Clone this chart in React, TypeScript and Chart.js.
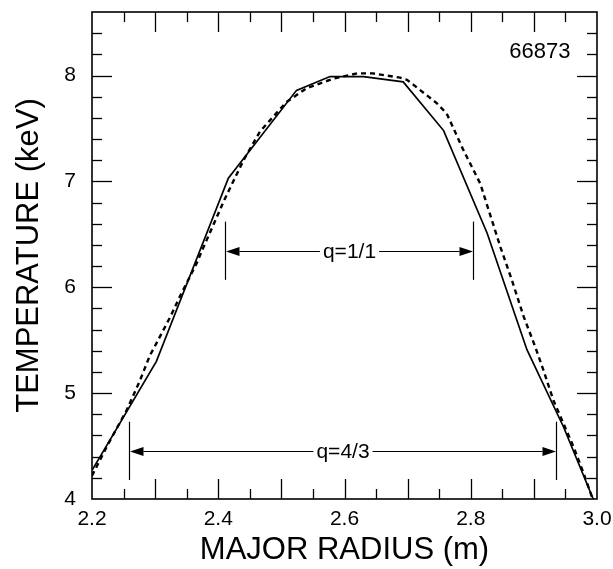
import React, { useEffect, useRef } from 'react';
import { Chart, registerables } from 'chart.js';

Chart.register(...registerables);

// Solid profile (major radius in m, temperature in keV)
const solidR = [2.2, 2.302, 2.416, 2.524, 2.577, 2.63, 2.693, 2.757, 2.826, 2.889, 2.947, 2.994];
const solidT = [4.27, 5.3, 7.03, 7.86, 7.99, 7.99, 7.94, 7.48, 6.51, 5.41, 4.68, 4.0];

// Dashed profile
const dashedR = [2.2, 2.223, 2.255, 2.276, 2.292, 2.302, 2.324, 2.339, 2.366, 2.376, 2.41, 2.44, 2.466, 2.508, 2.54, 2.582, 2.62, 2.645, 2.688, 2.699, 2.746, 2.762, 2.788, 2.815, 2.847, 2.865, 2.884, 2.902, 2.915, 2.931, 2.942, 2.963, 2.979, 2.992];
const dashedT = [4.22, 4.49, 4.84, 5.12, 5.36, 5.47, 5.72, 5.91, 6.23, 6.37, 6.83, 7.2, 7.47, 7.75, 7.88, 7.97, 8.02, 8.02, 7.98, 7.96, 7.74, 7.64, 7.3, 6.98, 6.38, 6.07, 5.72, 5.44, 5.22, 4.93, 4.78, 4.49, 4.24, 4.02];

// Axis ticks
const xTickLabels = [2.2, 2.4, 2.6, 2.8, 3.0];
const yTickLabels = [4, 5, 6, 7, 8];
const xLongTicks = [2.3, 2.4, 2.5, 2.6, 2.7, 2.8, 2.9];
const xShortTicks = [2.25, 2.35, 2.45, 2.55, 2.65, 2.75, 2.85, 2.95];
const yLongTicks = [5, 6, 7, 8];
const yShortTicks = [4.2, 4.4, 4.6, 4.8, 5.2, 5.4, 5.6, 5.8, 6.2, 6.4, 6.6, 6.8, 7.2, 7.4, 7.6, 7.8, 8.2, 8.4];

// q-surface annotations
const qLabels = ['q=1/1', 'q=4/3'];
const qLeftR = [2.41, 2.258];
const qRightR = [2.804, 2.935];
const qLevelT = [6.345, 4.455];
const qBarLowT = [6.07, 4.18];
const qBarHighT = [6.62, 4.73];

// Shot number
const shotLabel = '66873';
const shotR = 2.958;
const shotT = 8.22;

const FONT = '"Liberation Sans", Arial, Helvetica, sans-serif';

const framePlugin = {
  id: 'frameAndAnnotations',
  afterDraw(chart: any) {
    const { ctx, chartArea: a, scales } = chart;
    const x = scales.x;
    const y = scales.y;
    const line = (x1: number, y1: number, x2: number, y2: number) => {
      ctx.beginPath();
      ctx.moveTo(x1, y1);
      ctx.lineTo(x2, y2);
      ctx.stroke();
    };
    ctx.save();
    ctx.strokeStyle = '#000';
    ctx.fillStyle = '#000';
    ctx.lineWidth = 1.3;
    const tickX = (v: number, len: number) => {
      const px = Math.round(x.getPixelForValue(v)) + 0.5;
      line(px, a.bottom, px, a.bottom - len);
      line(px, a.top, px, a.top + len);
    };
    const tickY = (v: number, len: number) => {
      const py = Math.round(y.getPixelForValue(v)) + 0.5;
      line(a.left, py, a.left + len, py);
      line(a.right, py, a.right - len, py);
    };
    xLongTicks.forEach((v) => tickX(v, 20));
    xShortTicks.forEach((v) => tickX(v, 10));
    yLongTicks.forEach((v) => tickY(v, 20));
    yShortTicks.forEach((v) => tickY(v, 10));

    ctx.lineWidth = 1.6;
    ctx.strokeRect(a.left, a.top, a.right - a.left, a.bottom - a.top);

    // annotations
    ctx.font = `21px ${FONT}`;
    ctx.textAlign = 'center';
    ctx.textBaseline = 'middle';
    ctx.lineWidth = 1.2;
    qLabels.forEach((lab, i) => {
      const xl = Math.round(x.getPixelForValue(qLeftR[i])) + 0.5;
      const xr = Math.round(x.getPixelForValue(qRightR[i])) + 0.5;
      const yc = Math.round(y.getPixelForValue(qLevelT[i])) + 0.5;
      const yb1 = y.getPixelForValue(qBarLowT[i]);
      const yb2 = y.getPixelForValue(qBarHighT[i]);
      line(xl, yb1, xl, yb2);
      line(xr, yb1, xr, yb2);
      const cx = (xl + xr) / 2;
      const w = ctx.measureText(lab).width;
      const gap = 3;
      const head = 14;
      const hw = 4.5;
      line(xl + head, yc, cx - w / 2 - gap, yc);
      line(cx + w / 2 + gap, yc, xr - head, yc);
      ctx.beginPath();
      ctx.moveTo(xl + 0.5, yc);
      ctx.lineTo(xl + head, yc - hw);
      ctx.lineTo(xl + head, yc + hw);
      ctx.closePath();
      ctx.fill();
      ctx.beginPath();
      ctx.moveTo(xr - 0.5, yc);
      ctx.lineTo(xr - head, yc - hw);
      ctx.lineTo(xr - head, yc + hw);
      ctx.closePath();
      ctx.fill();
      ctx.fillText(lab, cx, yc + 1);
    });

    ctx.textAlign = 'right';
    ctx.font = `22px ${FONT}`;
    ctx.fillText(shotLabel, x.getPixelForValue(shotR), y.getPixelForValue(shotT));
    ctx.restore();
  },
};

export default function App() {
  const ref = useRef<HTMLCanvasElement | null>(null);
  useEffect(() => {
    document.body.style.margin = '0';
    const canvas = ref.current;
    if (!canvas) return;
    const chart = new Chart(canvas, {
      type: 'scatter',
      data: {
        datasets: [
          {
            label: 'solid',
            data: solidR.map((r, i) => ({ x: r, y: solidT[i] })),
            showLine: true,
            borderColor: '#000',
            borderWidth: 1.7,
            pointRadius: 0,
            fill: false,
            tension: 0,
          },
          {
            label: 'dashed',
            data: dashedR.map((r, i) => ({ x: r, y: dashedT[i] })),
            showLine: true,
            borderColor: '#000',
            borderWidth: 2.4,
            borderDash: [5, 4],
            pointRadius: 0,
            fill: false,
            tension: 0,
          },
        ],
      },
      plugins: [framePlugin],
      options: {
        responsive: false,
        animation: false,
        layout: { padding: { top: 12, right: 16, left: 0, bottom: 0 } },
        plugins: {
          legend: { display: false },
          tooltip: { enabled: false },
        },
        scales: {
          x: {
            type: 'linear',
            min: 2.2,
            max: 3.0,
            grid: { display: false, drawTicks: false },
            border: { display: false },
            afterBuildTicks: (s: any) => {
              s.ticks = xTickLabels.map((v) => ({ value: v }));
            },
            afterFit: (s: any) => {
              s.height = 70;
              s.paddingLeft = 0;
              s.paddingRight = 0;
              s.paddingTop = 0;
              s.paddingBottom = 0;
            },
            ticks: {
              color: '#000',
              padding: 8,
              maxRotation: 0,
              autoSkip: false,
              font: { family: FONT, size: 21 },
              callback: (v: any) => Number(v).toFixed(1),
            },
            title: {
              display: true,
              text: 'MAJOR RADIUS (m)',
              color: '#000',
              font: { family: FONT, size: 31, lineHeight: 1.2 },
              padding: { top: 0, bottom: 0 },
            },
          },
          y: {
            type: 'linear',
            min: 4,
            max: 8.6,
            grid: { display: false, drawTicks: false },
            border: { display: false },
            afterBuildTicks: (s: any) => {
              s.ticks = yTickLabels.map((v) => ({ value: v }));
            },
            afterFit: (s: any) => {
              s.width = 92;
              s.paddingLeft = 0;
              s.paddingRight = 0;
              s.paddingTop = 0;
              s.paddingBottom = 0;
            },
            ticks: {
              color: '#000',
              padding: 16,
              autoSkip: false,
              font: { family: FONT, size: 21 },
              callback: (v: any) => String(v),
            },
            title: {
              display: true,
              text: 'TEMPERATURE (keV)',
              color: '#000',
              font: { family: FONT, size: 31, lineHeight: 1.2 },
              padding: { top: 11, bottom: 0 },
            },
          },
        },
      },
    });
    return () => chart.destroy();
  }, []);
  return (
    <div style={{ width: 613, height: 569, background: '#fff' }}>
      <canvas ref={ref} width={613} height={569} style={{ display: 'block' }} />
    </div>
  );
}
